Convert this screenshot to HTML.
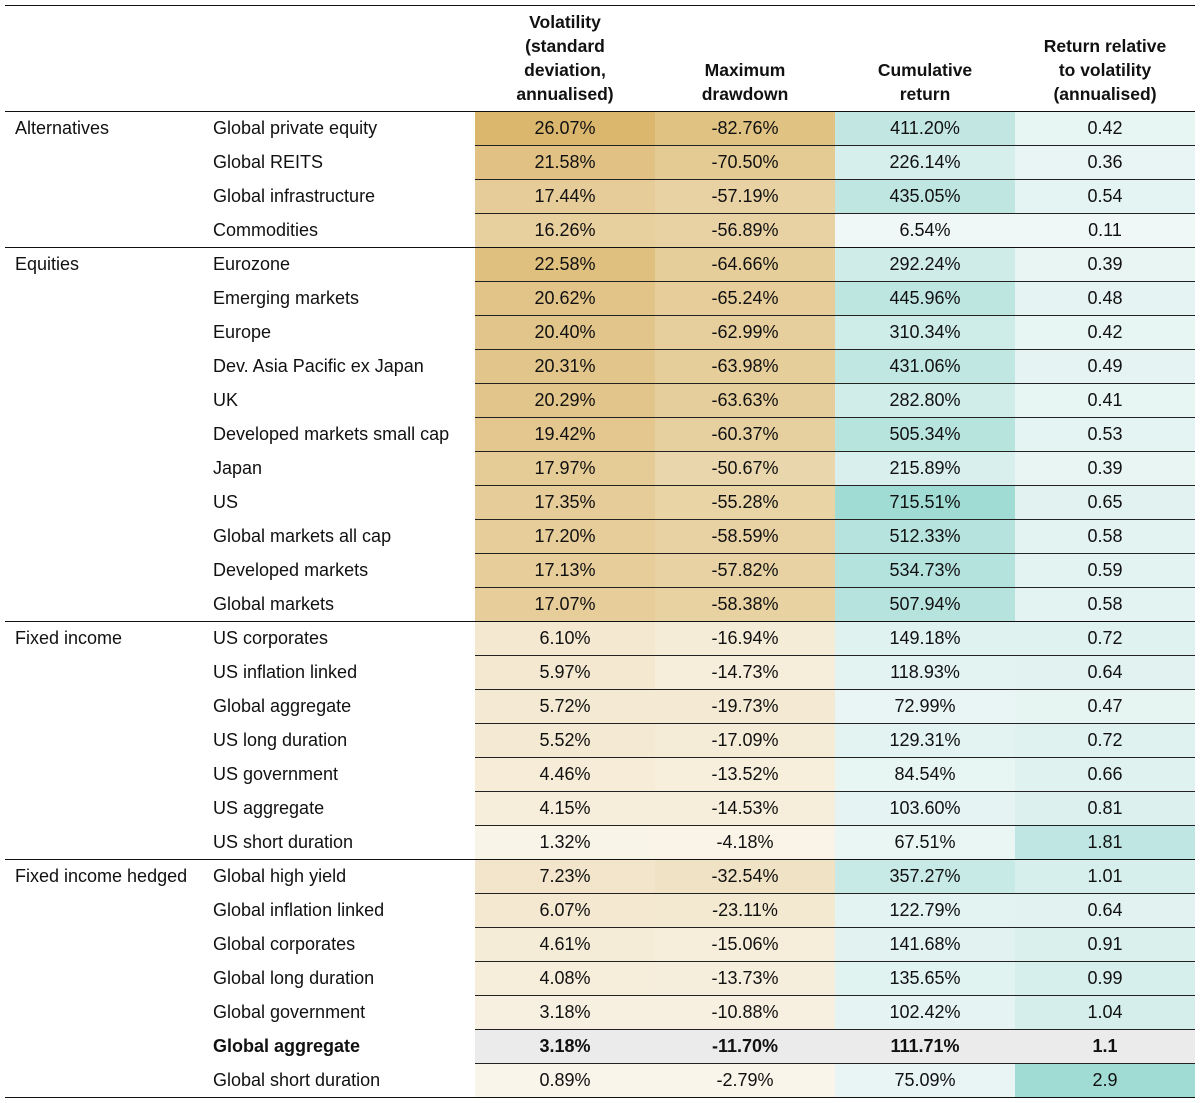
<!DOCTYPE html>
<html><head><meta charset="utf-8">
<style>
body{margin:0;background:#fff;width:1200px;height:1103px;overflow:hidden;font-family:"Liberation Sans",sans-serif;color:#111;}
table{position:absolute;left:5px;top:5px;border-collapse:collapse;width:1190px;table-layout:fixed;font-size:18px;}
th{font-weight:bold;font-size:17.5px;line-height:24px;vertical-align:bottom;padding:0 0 5px 0;height:100px;text-align:center;border-top:1.5px solid #111;border-bottom:1.5px solid #111;}
td{height:33px;padding:0;line-height:33px;}
td.c{text-align:center;border-bottom:1px solid #222;}
td.g{padding-left:10px;}
td.n{padding-left:8px;}
tr.sep td{border-bottom:1.5px solid #111;}
tr.b td{font-weight:bold;}
tr.b td.c{background:#ebebeb !important;}
</style></head><body>
<table id="t">
<colgroup><col style="width:200px"><col style="width:270px"><col style="width:180px"><col style="width:180px"><col style="width:180px"><col style="width:180px"></colgroup>
<tr><th></th><th></th><th>Volatility<br>(standard<br>deviation,<br>annualised)</th><th>Maximum<br>drawdown</th><th>Cumulative<br>return</th><th>Return relative<br>to volatility<br>(annualised)</th></tr>
<tr><td class="g">Alternatives</td><td class="n">Global private equity</td><td class="c">26.07%</td><td class="c">-82.76%</td><td class="c">411.20%</td><td class="c">0.42</td></tr>
<tr><td></td><td class="n">Global REITS</td><td class="c">21.58%</td><td class="c">-70.50%</td><td class="c">226.14%</td><td class="c">0.36</td></tr>
<tr><td></td><td class="n">Global infrastructure</td><td class="c">17.44%</td><td class="c">-57.19%</td><td class="c">435.05%</td><td class="c">0.54</td></tr>
<tr class="sep"><td></td><td class="n">Commodities</td><td class="c">16.26%</td><td class="c">-56.89%</td><td class="c">6.54%</td><td class="c">0.11</td></tr>
<tr><td class="g">Equities</td><td class="n">Eurozone</td><td class="c">22.58%</td><td class="c">-64.66%</td><td class="c">292.24%</td><td class="c">0.39</td></tr>
<tr><td></td><td class="n">Emerging markets</td><td class="c">20.62%</td><td class="c">-65.24%</td><td class="c">445.96%</td><td class="c">0.48</td></tr>
<tr><td></td><td class="n">Europe</td><td class="c">20.40%</td><td class="c">-62.99%</td><td class="c">310.34%</td><td class="c">0.42</td></tr>
<tr><td></td><td class="n">Dev. Asia Pacific ex Japan</td><td class="c">20.31%</td><td class="c">-63.98%</td><td class="c">431.06%</td><td class="c">0.49</td></tr>
<tr><td></td><td class="n">UK</td><td class="c">20.29%</td><td class="c">-63.63%</td><td class="c">282.80%</td><td class="c">0.41</td></tr>
<tr><td></td><td class="n">Developed markets small cap</td><td class="c">19.42%</td><td class="c">-60.37%</td><td class="c">505.34%</td><td class="c">0.53</td></tr>
<tr><td></td><td class="n">Japan</td><td class="c">17.97%</td><td class="c">-50.67%</td><td class="c">215.89%</td><td class="c">0.39</td></tr>
<tr><td></td><td class="n">US</td><td class="c">17.35%</td><td class="c">-55.28%</td><td class="c">715.51%</td><td class="c">0.65</td></tr>
<tr><td></td><td class="n">Global markets all cap</td><td class="c">17.20%</td><td class="c">-58.59%</td><td class="c">512.33%</td><td class="c">0.58</td></tr>
<tr><td></td><td class="n">Developed markets</td><td class="c">17.13%</td><td class="c">-57.82%</td><td class="c">534.73%</td><td class="c">0.59</td></tr>
<tr class="sep"><td></td><td class="n">Global markets</td><td class="c">17.07%</td><td class="c">-58.38%</td><td class="c">507.94%</td><td class="c">0.58</td></tr>
<tr><td class="g">Fixed income</td><td class="n">US corporates</td><td class="c">6.10%</td><td class="c">-16.94%</td><td class="c">149.18%</td><td class="c">0.72</td></tr>
<tr><td></td><td class="n">US inflation linked</td><td class="c">5.97%</td><td class="c">-14.73%</td><td class="c">118.93%</td><td class="c">0.64</td></tr>
<tr><td></td><td class="n">Global aggregate</td><td class="c">5.72%</td><td class="c">-19.73%</td><td class="c">72.99%</td><td class="c">0.47</td></tr>
<tr><td></td><td class="n">US long duration</td><td class="c">5.52%</td><td class="c">-17.09%</td><td class="c">129.31%</td><td class="c">0.72</td></tr>
<tr><td></td><td class="n">US government</td><td class="c">4.46%</td><td class="c">-13.52%</td><td class="c">84.54%</td><td class="c">0.66</td></tr>
<tr><td></td><td class="n">US aggregate</td><td class="c">4.15%</td><td class="c">-14.53%</td><td class="c">103.60%</td><td class="c">0.81</td></tr>
<tr class="sep"><td></td><td class="n">US short duration</td><td class="c">1.32%</td><td class="c">-4.18%</td><td class="c">67.51%</td><td class="c">1.81</td></tr>
<tr><td class="g">Fixed income hedged</td><td class="n">Global high yield</td><td class="c">7.23%</td><td class="c">-32.54%</td><td class="c">357.27%</td><td class="c">1.01</td></tr>
<tr><td></td><td class="n">Global inflation linked</td><td class="c">6.07%</td><td class="c">-23.11%</td><td class="c">122.79%</td><td class="c">0.64</td></tr>
<tr><td></td><td class="n">Global corporates</td><td class="c">4.61%</td><td class="c">-15.06%</td><td class="c">141.68%</td><td class="c">0.91</td></tr>
<tr><td></td><td class="n">Global long duration</td><td class="c">4.08%</td><td class="c">-13.73%</td><td class="c">135.65%</td><td class="c">0.99</td></tr>
<tr><td></td><td class="n">Global government</td><td class="c">3.18%</td><td class="c">-10.88%</td><td class="c">102.42%</td><td class="c">1.04</td></tr>
<tr class="b"><td></td><td class="n">Global aggregate</td><td class="c">3.18%</td><td class="c">-11.70%</td><td class="c">111.71%</td><td class="c">1.1</td></tr>
<tr class="sep"><td></td><td class="n">Global short duration</td><td class="c">0.89%</td><td class="c">-2.79%</td><td class="c">75.09%</td><td class="c">2.9</td></tr>
</table>
<script>
function mix(a,b,t){t=Math.max(0,Math.min(1,t));return 'rgb('+a.map((v,i)=>Math.round(v+(b[i]-v)*t)).join(',')+')';}
var gl=[250,245,234],gh=[219,183,110],gh2=[224,194,131],tl=[240,248,247],th=[160,219,212];
var rng=[[0.89,26.07],[2.79,82.76],[6.54,715.51],[0.11,2.9]];
document.querySelectorAll('#t tr').forEach(function(tr){
  var cs=tr.querySelectorAll('td.c');
  cs.forEach(function(td,i){
    var v=Math.abs(parseFloat(td.textContent));
    var t=(v-rng[i][0])/(rng[i][1]-rng[i][0]);
    td.style.background=i==0?mix(gl,gh,t):i==1?mix(gl,gh2,t):mix(tl,th,t);
  });
});
</script>
</body></html>
